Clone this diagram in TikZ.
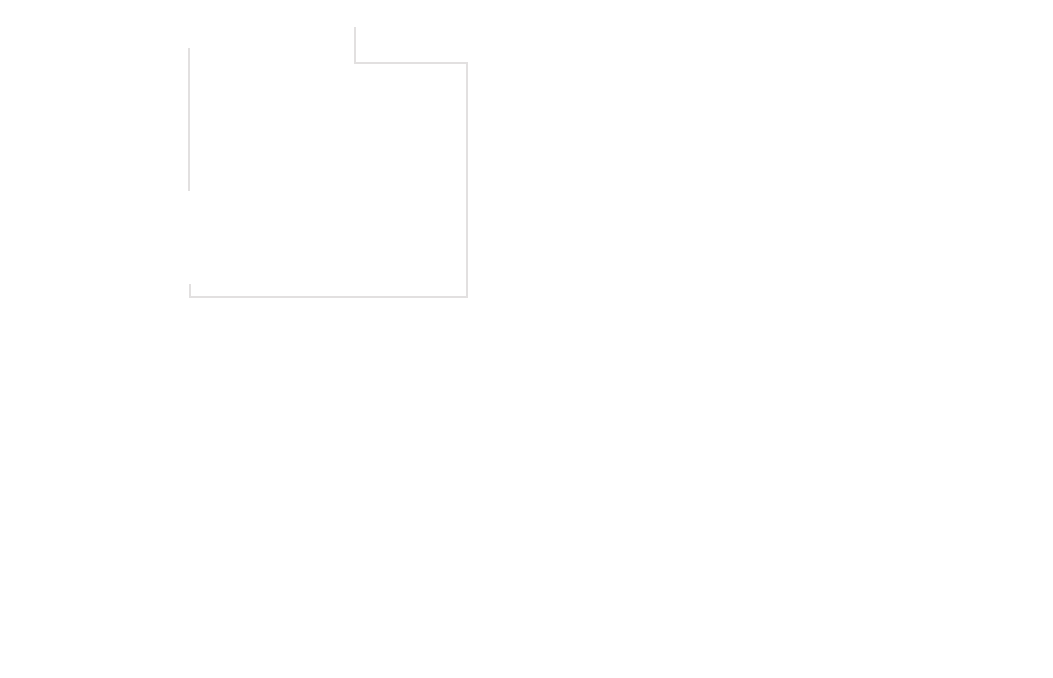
\documentclass[tikz,border=0pt]{standalone}
\usepackage{xcolor}
\usepackage{tikz}

\definecolor{wallgray}{RGB}{226,224,224}

\begin{document}
\begin{tikzpicture}[x=0.02cm,y=-0.02cm,wall/.style={draw=wallgray,line width=0.7pt}]
    \useasboundingbox (0,0) rectangle (1053,678);
    \coordinate (lt) at (189,48);
    \coordinate (lm) at (189,191);
    \coordinate (lb) at (190,284);
    \coordinate (bl) at (190,297);
    \coordinate (br) at (467,297);
    \coordinate (tr) at (467,63);
    \coordinate (tn) at (355,63);
    \coordinate (tt) at (355,27);
    \draw[wall] (lt) -- (lm);
    \draw[wall] (lb) -- (bl) -- (br) -- (tr) -- (tn) -- (tt);
\end{tikzpicture}
\end{document}
